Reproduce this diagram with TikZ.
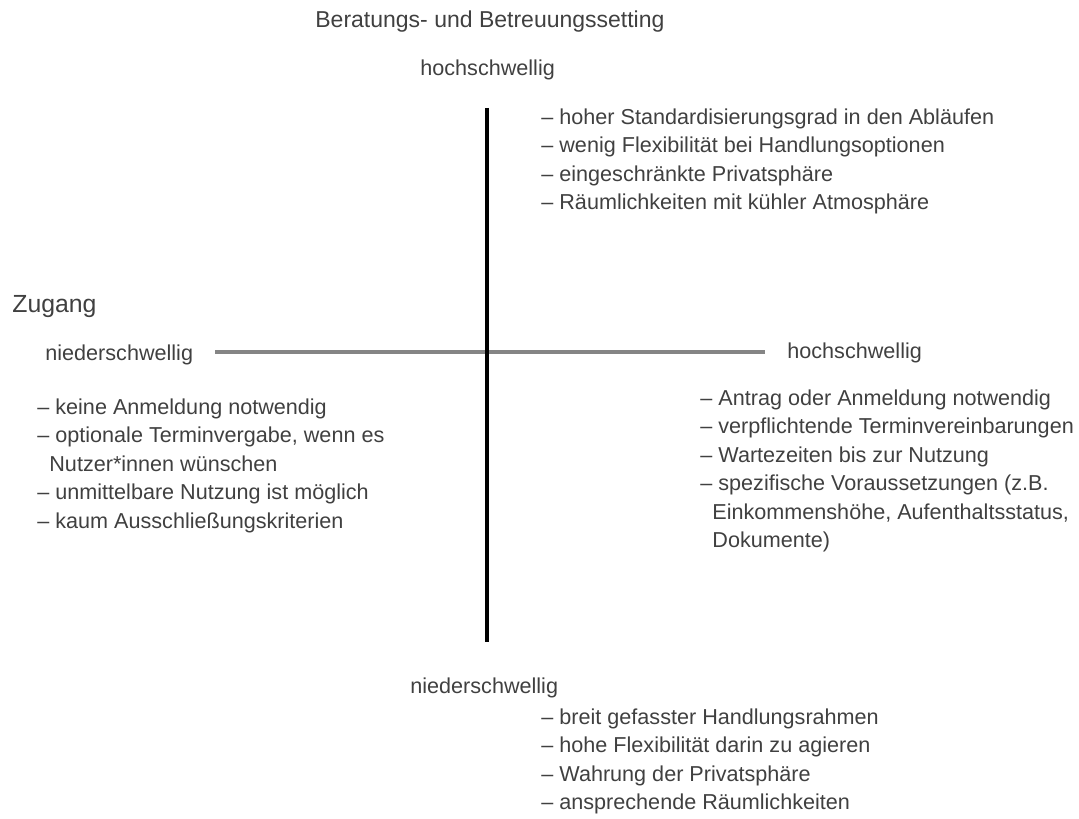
\documentclass[tikz,border=0pt]{standalone}
\usepackage{fontspec}
\setmainfont{Liberation Sans}
\definecolor{textgray}{HTML}{404040}
\definecolor{axisgray}{HTML}{858585}
\tikzset{
  stufe/.style={anchor=west, inner sep=0pt, text=textgray, font=\fontsize{10.8}{14.25}\selectfont},
  liste/.style={anchor=north west, inner sep=0pt, align=left, text=textgray, font=\fontsize{10.8}{14.25}\selectfont},
}
\newcommand{\weiter}{\hspace*{6pt}}

\begin{document}
\begin{tikzpicture}[x=0.5pt, y=-0.5pt]
                \useasboundingbox (0,0) rectangle (1079,818);
                % Headings:
                \node[stufe, font=\fontsize{11.5}{14}\selectfont] (setting) at (315,22) {Beratungs- und Betreuungssetting};
                \node[stufe, font=\fontsize{12.4}{14}\selectfont] (zugang) at (12,307) {Zugang};

                % Axes:
                \coordinate (oben) at (487,108);
                \coordinate (unten) at (487,642);
                \coordinate (links) at (215,352);
                \coordinate (rechts) at (765,352);
                \draw[axisgray, line width=2.3pt] (links) -- (rechts);
                \draw[black, line width=2pt] (oben) -- (unten);

                % Axes labels:
                \node[stufe] (hoch oben) at (420,70) {hochschwellig};
                \node[stufe] (nieder unten) at (410,688) {niederschwellig};
                \node[stufe] (nieder links) at (45,355) {niederschwellig};
                \node[stufe] (hoch rechts) at (787,353) {hochschwellig};

                % Lists:
                \node[liste] (liste oben) at (541,108) {%
                  – hoher Standardisierungsgrad in den Abläufen\\
                  – wenig Flexibilität bei Handlungsoptionen\\
                  – eingeschränkte Privatsphäre\\
                  – Räumlichkeiten mit kühler Atmosphäre};
                \node[liste] (liste links) at (37,398) {%
                  – keine Anmeldung notwendig\\
                  – optionale Terminvergabe, wenn es\\
                  \weiter Nutzer*innen wünschen\\
                  – unmittelbare Nutzung ist möglich\\
                  – kaum Ausschließungskriterien};
                \node[liste] (liste rechts) at (700,389) {%
                  – Antrag oder Anmeldung notwendig\\
                  – verpflichtende Terminvereinbarungen\\
                  – Wartezeiten bis zur Nutzung\\
                  – spezifische Voraussetzungen (z.B.\\
                  \weiter Einkommenshöhe, Aufenthaltsstatus,\\
                  \weiter Dokumente)};
                \node[liste] (liste unten) at (541,708) {%
                  – breit gefasster Handlungsrahmen\\
                  – hohe Flexibilität darin zu agieren\\
                  – Wahrung der Privatsphäre\\
                  – ansprechende Räumlichkeiten};
\end{tikzpicture}
\end{document}
